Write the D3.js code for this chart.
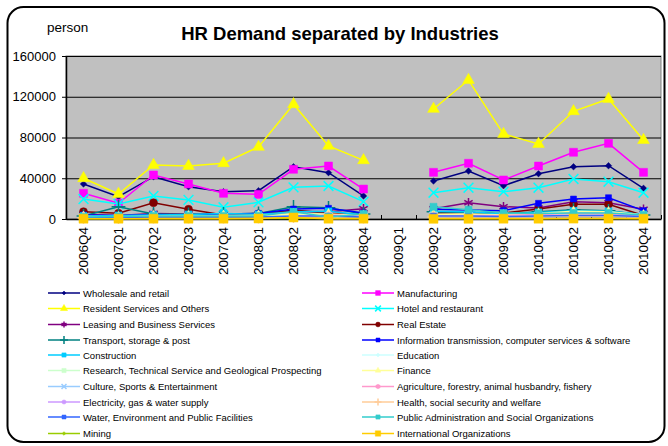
<!DOCTYPE html>
<html>
<head>
<meta charset="utf-8">
<script src="https://cdn.jsdelivr.net/npm/d3@7"></script>
<style>
body { margin: 0; background: #fff; }
svg { display: block; font-family: Arial, "Liberation Sans", sans-serif; }
</style>
</head>
<body>
<svg></svg>
<script>
// HR demand by industry, quarterly line chart
const quarters = ['2006Q4', '2007Q1', '2007Q2', '2007Q3', '2007Q4', '2008Q1', '2008Q2', '2008Q3', '2008Q4',
                  '2009Q1', '2009Q2', '2009Q3', '2009Q4', '2010Q1', '2010Q2', '2010Q3', '2010Q4'];
const yTicks = [0, 40000, 80000, 120000, 160000];

const wholesale     = [34400, 21900, 41500, 31700, 26800, 27800, 51300, 45500, 22600, null, 37300, 47100, 32700, 44500, 51300, 52300, 30100];
const manufacturing = [25200, 15500, 43200, 34400, 25200, 24200, 48800, 52000, 29400, null, 45800, 54700, 38300, 52000, 65500, 74300, 45800];
const resident      = [40000, 24500, 53000, 52000, 54700, 70700, 112600, 71700, 57600, null, 108000, 136400, 83400, 73600, 105700, 117800, 77500];
const hotel         = [19600, 14700, 22600, 18700, 11500, 16400, 31100, 32400, 17000, null, 25800, 30700, 26800, 30700, 39300, 36600, 25800];
const leasing       = [4500, 3500, 5500, 5000, 4500, 5000, 7500, 7000, 10000, null, 10000, 16000, 12100, 10800, 17000, 16000, 9500];
const realEstate    = [7200, 5600, 16000, 9500, 3900, 4900, 8800, 5600, 4000, null, 6200, 6200, 6000, 9800, 14400, 14400, 3500];
const transport     = [3000, 12100, 5000, 4500, 5000, 5500, 12000, 11000, 5000, null, 7000, 6500, 5000, 7000, 9000, 8000, 4000];
const information   = [4000, 3500, 4500, 4000, 5000, 5500, 9800, 10500, 5900, null, 9500, 8800, 8200, 15400, 19600, 20900, 8200];
const construction  = [3000, 3500, 4000, 4500, 5500, 4500, 7000, 7500, 4000, null, 7500, 7000, 5000, 6500, 8000, 7500, 4500];
const education     = [2000, 2000, 2500, 2500, 3000, 3000, 4000, 4000, 3000, null, 4000, 4500, 3500, 4000, 5000, 5000, 3000];
const research      = [1500, 1500, 2000, 2000, 2500, 2500, 3000, 3000, 2000, null, 3500, 3500, 3000, 3500, 4500, 4000, 2500];
const finance       = [2500, 2000, 3000, 3000, 3500, 3500, 5000, 5000, 3500, null, 4500, 5000, 4000, 5500, 7500, 7000, 4000];
const culture       = [1000, 1000, 1500, 1500, 1500, 1500, 2000, 2000, 1500, null, 2500, 2500, 2000, 2500, 3000, 3000, 2000];
const agriculture   = [1000, 800, 1500, 1500, 1500, 2000, 2500, 4000, 3000, null, 3000, 3500, 3500, 4500, 5500, 5000, 3000];
const electricity   = [800, 700, 1000, 1000, 1000, 1000, 1500, 1500, 1000, null, 1500, 1500, 1500, 2000, 2500, 2500, 1500];
const health        = [1200, 1000, 1500, 1500, 1500, 1500, 2000, 2000, 1500, null, 2000, 2500, 2000, 2500, 3000, 3000, 2000];
const water         = [1500, 1500, 2000, 2000, 2000, 2000, 3000, 3000, 2000, null, 3000, 3000, 2500, 3000, 3500, 3500, 2500];
const publicAdmin   = [2000, 2500, 3000, 3000, 3000, 3000, 7000, 2000, 5000, null, 12000, 9000, 6000, 5500, 6000, 6000, 4000];
const mining        = [300, 300, 400, 400, 400, 500, 500, 500, 400, null, 500, 500, 500, 600, 600, 600, 500];
const international = [300, 300, 300, 300, 300, 500, 1500, 300, 300, null, 200, 200, 300, 300, 400, 400, 300];

const seriesNames = ['Wholesale and retail', 'Manufacturing', 'Resident Services and Others', 'Hotel and restaurant',
  'Leasing and Business Services', 'Real Estate', 'Transport, storage & post',
  'Information transmission, computer services & software', 'Construction', 'Education',
  'Research, Technical Service and Geological Prospecting', 'Finance', 'Culture, Sports & Entertainment',
  'Agriculture, forestry, animal husbandry, fishery', 'Electricity, gas & water supply',
  'Health, social security and welfare', 'Water, Environment and Public Facilities',
  'Public Administration and Social Organizations', 'Mining', 'International Organizations'];
const seriesValues = [wholesale, manufacturing, resident, hotel, leasing, realEstate, transport, information,
  construction, education, research, finance, culture, agriculture, electricity, health, water,
  publicAdmin, mining, international];

// Excel-like look per series: colour, marker, marker size
const looks = [
  ['#000080', 'diamond', 7], ['#FF00FF', 'square', 8], ['#FFFF00', 'triangle', 10], ['#00FFFF', 'times', 8],
  ['#800080', 'asterisk', 8], ['#800000', 'circle', 8], ['#008080', 'plus', 8], ['#0000FF', 'square', 6],
  ['#00CCFF', 'square', 7], ['#CCFFFF', 'diamond', 7], ['#CCFFCC', 'square', 7], ['#FFFF99', 'triangle', 8],
  ['#99CCFF', 'times', 7], ['#FF99CC', 'asterisk', 7], ['#CC99FF', 'circle', 7], ['#FFCC99', 'plus', 7],
  ['#3366FF', 'square', 6], ['#33CCCC', 'square', 7], ['#99CC00', 'diamond', 6], ['#FFCC00', 'square', 9]
];

const SVG_WIDTH = 668;
const SVG_HEIGHT = 446;
const PLOT = { left: 66, right: 661, top: 56, bottom: 219 };

const SVG = d3.select('svg').attr('width', SVG_WIDTH).attr('height', SVG_HEIGHT);

// outer frame
SVG.append('rect').attr('x', 7.5).attr('y', 7).attr('width', 657).attr('height', 435)
   .attr('rx', 16).attr('fill', '#fff').attr('stroke', '#000').attr('stroke-width', 2);

const xScale = d3.scaleBand().domain(quarters).range([PLOT.left, PLOT.right]);
const xEdges = d3.scaleLinear().domain([0, quarters.length]).range([PLOT.left, PLOT.right]);
const yScale = d3.scaleLinear().domain([0, 160000]).range([PLOT.bottom, PLOT.top]);
const cx = q => xScale(q) + xScale.bandwidth() / 2;

// plot area
SVG.append('rect').attr('x', PLOT.left).attr('y', PLOT.top)
   .attr('width', PLOT.right - PLOT.left).attr('height', PLOT.bottom - PLOT.top)
   .attr('fill', '#C0C0C0').attr('stroke', '#808080').attr('stroke-width', 1);

// gridlines + y axis
const yAxis = d3.axisLeft(yScale).tickValues(yTicks).tickFormat(d3.format('d'))
  .tickSize(-(PLOT.right - PLOT.left)).tickSizeOuter(0).tickPadding(10);
const yG = SVG.append('g').attr('transform', `translate(${PLOT.left},0)`).call(yAxis);
yG.select('.domain').attr('stroke', '#000').attr('stroke-width', 1.5);
yG.selectAll('.tick line').attr('stroke', '#000');
yG.selectAll('.tick text').style('font-size', '13px').attr('fill', '#000')
  .style('font-family', 'Arial, "Liberation Sans", sans-serif');
const yTickMarks = d3.axisLeft(yScale).tickValues(yTicks).tickSize(4).tickFormat('');
SVG.append('g').attr('transform', `translate(${PLOT.left},0)`).call(yTickMarks).select('.domain').remove();

// x axis: ticks on band edges, labels at centres
const xTickMarks = d3.axisBottom(xEdges).ticks(quarters.length).tickSize(-4).tickFormat('').tickSizeOuter(0);
const xG = SVG.append('g').attr('transform', `translate(0,${PLOT.bottom})`).call(xTickMarks);
xG.select('.domain').attr('stroke', '#000').attr('stroke-width', 1.5);

SVG.append('g').selectAll('text').data(quarters).enter().append('text')
   .attr('transform', d => `translate(${cx(d)},${PLOT.bottom + 8}) rotate(-90)`)
   .attr('dy', '0.35em')
   .style('text-anchor', 'end')
   .style('font-size', '13.5px')
   .text(d => d);

// titles
SVG.append('text').attr('x', 340).attr('y', 40).style('text-anchor', 'middle')
   .style('font-size', '18.5px').style('font-weight', 'bold').text('HR Demand separated by Industries');
SVG.append('text').attr('x', 47).attr('y', 32).style('font-size', '13.5px').text('person');

// markers
const symbolTypes = {
  diamond: d3.symbolDiamond2, square: d3.symbolSquare, triangle: d3.symbolTriangle, times: d3.symbolTimes,
  asterisk: d3.symbolAsterisk, circle: d3.symbolCircle, plus: d3.symbolPlus
};
const strokeOnly = ['times', 'asterisk', 'plus'];
function drawMarker(g, look) {
  const [color, shape, size] = look;
  const area = shape === 'circle' ? Math.PI * size * size / 4 : size * size * (shape === 'triangle' ? 0.6 : shape === 'diamond' ? 0.55 : 1);
  g.append('path').attr('d', d3.symbol(symbolTypes[shape], area)())
   .attr('fill', strokeOnly.includes(shape) ? 'none' : color)
   .attr('stroke', color).attr('stroke-width', strokeOnly.includes(shape) ? 1.5 : 0.5);
}

// lines
const line = d3.line().defined(d => d.value !== null).x(d => cx(d.q)).y(d => yScale(d.value));
seriesValues.forEach((values, i) => {
  const points = values.map((value, j) => ({ q: quarters[j], value }));
  const g = SVG.append('g');
  g.append('path').datum(points).attr('d', line).attr('fill', 'none')
   .attr('stroke', looks[i][0]).attr('stroke-width', 1.5);
  points.filter(p => p.value !== null).forEach(p => {
    drawMarker(g.append('g').attr('transform', `translate(${cx(p.q)},${yScale(p.value)})`), looks[i]);
  });
});

// legend, two columns
const legendRows = [293, 308.5, 324.5, 340, 355, 370.5, 386.5, 402, 417, 433.5];
seriesNames.forEach((name, i) => {
  const col = i % 2;
  const row = Math.floor(i / 2);
  const x0 = col === 0 ? 48 : 362;
  const g = SVG.append('g').attr('transform', `translate(${x0},${legendRows[row]})`);
  g.append('line').attr('x1', 0).attr('x2', 32).attr('stroke', looks[i][0]).attr('stroke-width', 1.5);
  const small = [looks[i][0], looks[i][1], Math.max(4, looks[i][2] * 0.6)];
  drawMarker(g.append('g').attr('transform', 'translate(16,0)'), small);
  g.append('text').attr('x', 35).attr('y', 3.5).style('font-size', '9.5px').text(name);
});
</script>
</body>
</html>
